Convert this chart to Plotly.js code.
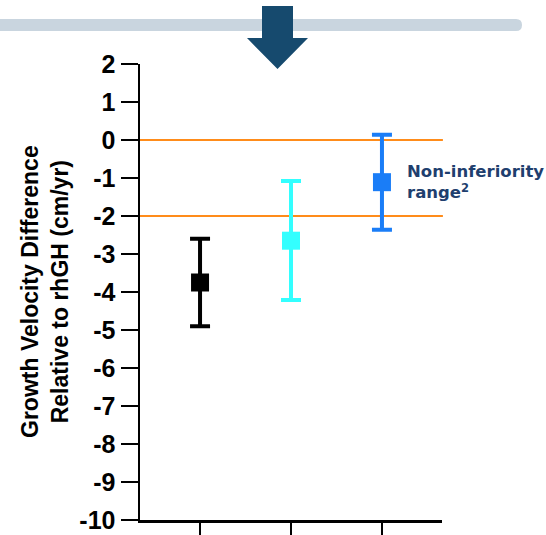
<!DOCTYPE html>
<html>
<head>
<meta charset="utf-8">
<script src="https://cdn.plot.ly/plotly-3.0.1.min.js"></script>
<style>
html,body{margin:0;padding:0;background:#fff;}
#chart{width:546px;height:535px;}
</style>
</head>
<body>
<div id="chart"></div>
<script>
// ---- data ----
const groups = ["Group A", "Group B", "Group C"];
const diffValues = [-3.75, -2.65, -1.11];
const ciUpper = [-2.6, -1.08, 0.14];
const ciLower = [-4.9, -4.21, -2.36];
const groupColors = ["#000000", "#33ffff", "#1a7df7"];
const yTickValues = [2, 1, 0, -1, -2, -3, -4, -5, -6, -7, -8, -9, -10];
const yTickLabels = ["2", "1", "0", "-1", "-2", "-3", "-4", "-5", "-6", "-7", "-8", "-9", "-10"];
const marginLines = [0, -2];
const yTitleLines = ["Growth Velocity Difference", "Relative to rhGH (cm/yr)"];
const noteLines = ["Non-inferiority", "range<sup>2</sup>"];

// ---- layout helpers (pixel -> paper) ----
const L = 140, T = 64, W = 302, H = 456, FW = 546, FH = 535;
const px = x => (x - L) / W;
const py = y => (T + H - y) / H;
function path(pts, close) {
  return pts.map((p, i) => (i ? "L" : "M") + px(p[0]).toFixed(4) + "," + py(p[1]).toFixed(4)).join(" ") + (close ? " Z" : "");
}
const b = s => "<b>" + s + "</b>";

const traces = groups.map((g, i) => ({
  type: "scatter",
  mode: "markers",
  x: [g],
  y: [diffValues[i]],
  marker: { symbol: "square", size: 18, color: groupColors[i] },
  error_y: {
    type: "data",
    symmetric: false,
    array: [ciUpper[i] - diffValues[i]],
    arrayminus: [diffValues[i] - ciLower[i]],
    color: groupColors[i],
    thickness: 4,
    width: 10
  },
  showlegend: false,
  hoverinfo: "skip"
}));

const arial = "Arial, 'Liberation Sans', sans-serif";

const shapes = [];
marginLines.forEach(v => shapes.push({
  type: "line", xref: "paper", yref: "y", x0: 0, x1: 1.003, y0: v, y1: v,
  line: { color: "#ff8c1a", width: 2 }, layer: "below"
}));
// top grey bar with rounded right end
const gb = "M" + px(-5) + "," + py(19) + " L" + px(516) + "," + py(19) +
  " Q" + px(522) + "," + py(19) + " " + px(522) + "," + py(25) +
  " Q" + px(522) + "," + py(31) + " " + px(516) + "," + py(31) +
  " L" + px(-5) + "," + py(31) + " Z";
shapes.push({ type: "path", xref: "paper", yref: "paper", path: gb, fillcolor: "#c9d5df", line: { width: 0 } });
// down arrow
shapes.push({
  type: "path", xref: "paper", yref: "paper",
  path: path([[262, 6], [293, 6], [293, 38], [308, 38], [277.5, 69], [247, 38], [262, 38]], true),
  fillcolor: "#164a6e", line: { width: 0 }
});

const layout = {
  width: FW, height: FH,
  margin: { l: L, r: FW - L - W, t: T, b: FH - T - H, pad: 0 },
  paper_bgcolor: "#fff", plot_bgcolor: "#fff",
  xaxis: {
    type: "category",
    range: [-0.66, 2.66],
    showticklabels: false,
    ticks: "outside", ticklen: 18, tickwidth: 2.5, tickcolor: "#000",
    showline: true, linecolor: "#000", linewidth: 2.5,
    showgrid: false, zeroline: false, fixedrange: true
  },
  yaxis: {
    range: [-10, 2],
    tickvals: yTickValues, ticktext: yTickLabels.map(b),
    ticks: "outside", ticklen: 17, tickwidth: 2.5, tickcolor: "#000",
    tickfont: { family: arial, size: 25, color: "#000" },
    showline: true, linecolor: "#000", linewidth: 2.5,
    showgrid: false, zeroline: false, fixedrange: true
  },
  shapes: shapes,
  annotations: [
    {
      xref: "paper", yref: "paper", x: px(45), y: py(292), xanchor: "center", yanchor: "middle",
      text: yTitleLines.map(b).join("<br>"), textangle: -90, showarrow: false,
      font: { family: arial, size: 23, color: "#000" }
    },
    {
      xref: "paper", yref: "paper", x: px(405), y: py(182), xanchor: "left", yanchor: "middle",
      text: noteLines.map(b).join("<br>"), showarrow: false, align: "left",
      font: { family: "'DejaVu Sans', sans-serif", size: 16.5, color: "#1f3f6e" }
    }
  ]
};

Plotly.newPlot("chart", traces, layout, { displayModeBar: false, staticPlot: true });
</script>
</body>
</html>
